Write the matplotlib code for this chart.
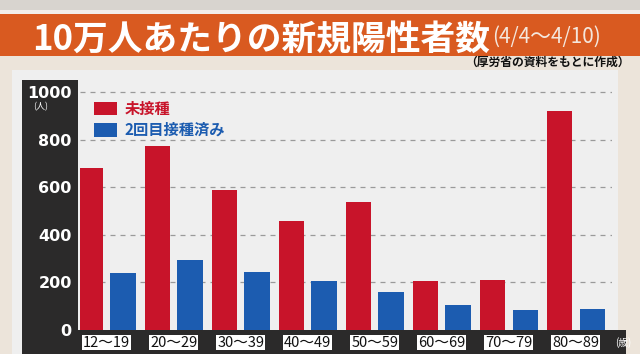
import matplotlib
matplotlib.use("Agg")
import matplotlib.pyplot as plt
from matplotlib.patches import Rectangle
from matplotlib.transforms import blended_transform_factory
import numpy as np

plt.rcParams['font.family'] = ['Noto Sans CJK JP', 'DejaVu Sans']

# --- Data ---
ages      = ["12～19", "20～29", "30～39", "40～49", "50～59", "60～69", "70～79", "80～89"]
unvax     = [680, 775, 590, 460, 540, 205, 210, 920]   # 未接種
two_doses = [240, 295, 245, 205, 160, 105, 85, 90]     # 2回目接種済み
yticks    = [0, 200, 400, 600, 800, 1000]

RED   = "#c8142a"
BLUE  = "#1c5cb0"
ORNG  = "#d95a20"
DARK  = "#2b2a2a"

W, H = 640, 354
fig = plt.figure(figsize=(W / 100, H / 100), dpi=100)
fig.patch.set_facecolor("#d8d4cf")

def px_rect(x0, y0, x1, y1, color, z=-1):
    # rectangle in pixel coords (origin top-left), drawn behind the axes
    fig.patches.append(Rectangle((x0 / W, 1 - y1 / H), (x1 - x0) / W, (y1 - y0) / H,
                                 transform=fig.transFigure, color=color, zorder=z, lw=0))

# background pieces
px_rect(0, 10, W, 14, "#f2eeea")
px_rect(0, 14, W, 56, ORNG)
px_rect(0, 56, W, 354, "#ece4da")
px_rect(12, 70, 618, 354, "#efefef")
px_rect(22, 80, 78, 354, DARK)
px_rect(22, 330, 626, 354, DARK)

# --- Titles ---
fig.text(32 / W, 1 - 40 / H, "10万人あたりの新規陽性者数", color="white",
         fontsize=25, weight="bold", va="center", ha="left")
fig.text(492 / W, 1 - 37 / H, "(4/4～4/10)", color="#f4e6dc",
         fontsize=15, va="center", ha="left")
fig.text(630 / W, 1 - 62 / H, "（厚労省の資料をもとに作成）", color="#111111",
         fontsize=8.5, weight="bold", va="center", ha="right")

# --- Chart ---
ax = fig.add_axes([80 / W, 1 - 330 / H, (612 - 80) / W, (330 - 78) / H])
ax.set_facecolor("none")
x = np.arange(len(ages))
w, off = 0.38, 0.245
ax.bar(x - off, unvax, w, color=RED, label="未接種", zorder=3)
ax.bar(x + off, two_doses, w, color=BLUE, label="2回目接種済み", zorder=3)

ax.set_xlim(-0.40, 7.54)
ax.set_ylim(0, 1060)
for yv in yticks[1:]:
    ax.axhline(yv, color="#9a9a9a", lw=0.9, ls=(0, (4, 4)), zorder=1)

ax.set_yticks(yticks)
ax.set_yticklabels([str(v) for v in yticks], color="white", fontsize=11.5,
                   weight="bold", family="DejaVu Sans")
ax.tick_params(axis="y", length=0, pad=6)

ax.set_xticks(x)
ax.set_xticklabels(ages, fontsize=10.5, color="#111111")
ax.tick_params(axis="x", length=0, pad=4)
for lab in ax.get_xticklabels():
    lab.set_bbox(dict(facecolor="white", edgecolor="none", pad=0.6))

for s in ax.spines.values():
    s.set_visible(False)

ax.text(-0.06, 960, "(人)", transform=ax.get_yaxis_transform(), color="white",
        fontsize=6.5, va="top", ha="right")
ax.text(1.005, 1 - 343 / H, "(歳)",
        transform=blended_transform_factory(ax.transAxes, fig.transFigure),
        color="white", fontsize=7, va="center", ha="left")

leg = ax.legend(loc="upper left", bbox_to_anchor=(0.0, 0.965), frameon=False,
                handlelength=1.5, handleheight=1.0, handletextpad=0.5,
                labelspacing=0.35, prop={"weight": "bold", "size": 11})
for t, c in zip(leg.get_texts(), [RED, BLUE]):
    t.set_color(c)

fig.savefig("out.png", dpi=100, facecolor=fig.get_facecolor())
